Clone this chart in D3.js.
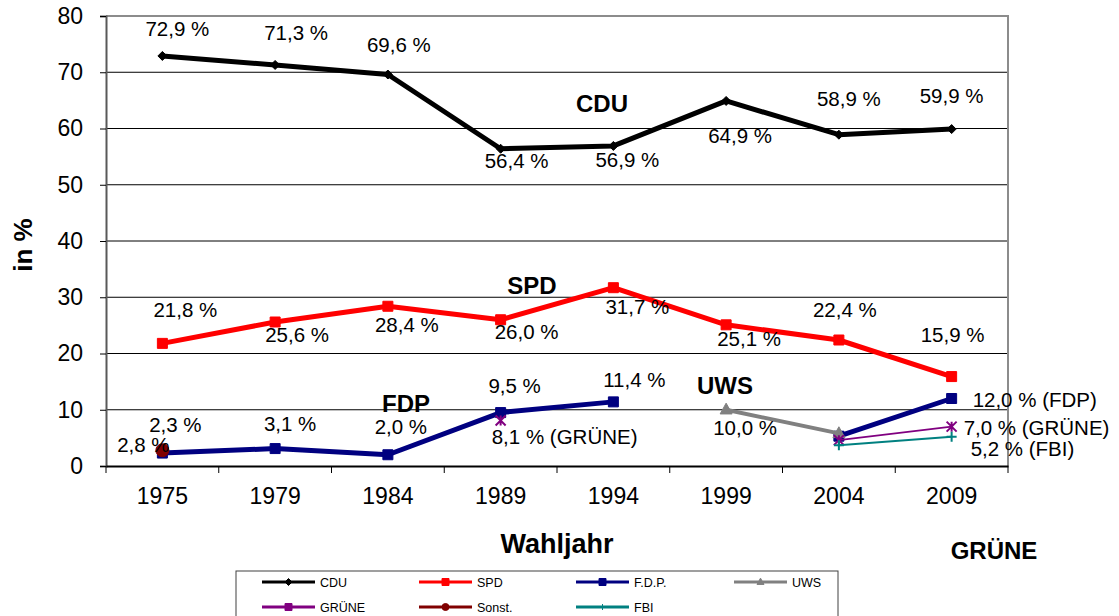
<!DOCTYPE html>
<html>
<head>
<meta charset="utf-8">
<script src="https://cdn.jsdelivr.net/npm/d3@7"></script>
<style>
  body { margin: 0; background: #fff; }
  svg { display: block; font-family: "Liberation Sans", Arial, sans-serif; }
</style>
</head>
<body>
<svg id="chart" width="1119" height="616"></svg>
<script>
// Wahlergebnisse in %
const years = ["1975", "1979", "1984", "1989", "1994", "1999", "2004", "2009"];
const cdu   = [72.9, 71.3, 69.6, 56.4, 56.9, 64.9, 58.9, 59.9];
const spd   = [21.8, 25.6, 28.4, 26.0, 31.7, 25.1, 22.4, 15.9];
const fdp   = [2.3, 3.1, 2.0, 9.5, 11.4, null, 5.3, 12.0];
const uws   = [null, null, null, null, null, 10.0, 5.8, null];
const gruene = [null, null, null, 8.1, null, null, 4.6, 7.0];
const sonst = [2.8, null, null, null, null, null, null, null];
const fbi   = [null, null, null, null, null, null, 3.7, 5.2];
const yTicks = [0, 10, 20, 30, 40, 50, 60, 70, 80];

const series = [
  {name: "CDU",    values: cdu,    color: "#000000", width: 5,   marker: "diamond"},
  {name: "SPD",    values: spd,    color: "#ff0000", width: 5,   marker: "square"},
  {name: "F.D.P.", values: fdp,    color: "#000080", width: 5,   marker: "square"},
  {name: "UWS",    values: uws,    color: "#808080", width: 4,   marker: "triangle"},
  {name: "GRÜNE",  values: gruene, color: "#800080", width: 2,   marker: "star", legendMarker: "square"},
  {name: "Sonst.", values: sonst,  color: "#800000", width: 4,   marker: "circle"},
  {name: "FBI",    values: fbi,    color: "#008080", width: 2,   marker: "plus"}
];

// data labels: series index, point index, suffix, placement relative to the point
const labels = [
  [0, 0, "", 15, -20], [0, 1, "", 21, -25], [0, 2, "", 11, -23], [0, 3, "", 16, 19],
  [0, 4, "", 14, 21],  [0, 5, "", 14, 42],  [0, 6, "", 10, -29], [0, 7, "", 0, -26],
  [1, 0, "", 23, -26], [1, 1, "", 22, 20],  [1, 2, "", 19, 26],  [1, 3, "", 26, 19],
  [1, 4, "", 24, 26],  [1, 5, "", 23, 21],  [1, 6, "", 6, -23],  [1, 7, "", 1, -35],
  [2, 0, "", 13, -21], [2, 1, "", 15, -18], [2, 2, "", 13, -21], [2, 3, "", 14, -20],
  [2, 4, "", 21, -15], [2, 7, " (FDP)", 21, 8, "start"],
  [3, 5, "", 19, 25],
  [4, 3, " (GRÜNE)", 64, 24], [4, 7, " (GRÜNE)", 12, 8, "start"],
  [5, 0, "", -19, 2],
  [6, 7, " (FBI)", 19, 19, "start"]
];

const partyNames = [
  {text: "CDU", x: 602, y: 112}, {text: "SPD", x: 532, y: 294},
  {text: "FDP", x: 406, y: 412}, {text: "UWS", x: 725, y: 394},
  {text: "GRÜNE", x: 994, y: 559}
];

const svg = d3.select("#chart");
const mLeft = 106, mRight = 1008, mTop = 16, mBottom = 466;

const x = d3.scaleBand().domain(years).range([mLeft, mRight]);
const y = d3.scaleLinear().domain([0, 80]).range([mBottom, mTop]);
const cx = i => x(years[i]) + x.bandwidth() / 2;
const fmt = v => d3.format(".1f")(v).replace(".", ",") + " %";

// gridlines
svg.append("g").selectAll("line")
  .data(yTicks.filter(t => t > 0 && t < 80))
  .join("line")
  .attr("x1", mLeft).attr("x2", mRight)
  .attr("y1", d => y(d)).attr("y2", d => y(d))
  .attr("stroke", "#000").attr("stroke-width", 1);

// plot frame (top & right)
svg.append("path")
  .attr("d", `M${mLeft},${mTop}H${mRight}V${mBottom}`)
  .attr("fill", "none").attr("stroke", "#8c8c8c").attr("stroke-width", 2);

// y axis
const yAxis = svg.append("g")
  .attr("transform", `translate(${mLeft},0)`)
  .call(d3.axisLeft(y).tickValues(yTicks).tickSize(6).tickPadding(17).tickFormat(d3.format("d")));
yAxis.select(".domain").attr("stroke", "#595959").attr("stroke-width", 2);
yAxis.selectAll(".tick line").attr("stroke", "#000");
yAxis.selectAll("text").attr("font-size", 23).attr("fill", "#000")
  .attr("font-family", "Liberation Sans, Arial, sans-serif");

// x axis
const xAxis = svg.append("g")
  .attr("transform", `translate(0,${mBottom})`)
  .call(d3.axisBottom(x).tickSize(0).tickPadding(22));
xAxis.select(".domain").attr("stroke", "#000").attr("stroke-width", 2);
xAxis.selectAll("text").attr("font-size", 23).attr("fill", "#000")
  .attr("font-family", "Liberation Sans, Arial, sans-serif");
xAxis.append("g").selectAll("line")
  .data(d3.range(years.length + 1))
  .join("line")
  .attr("x1", i => mLeft + i * x.step()).attr("x2", i => mLeft + i * x.step())
  .attr("y1", 0).attr("y2", 7)
  .attr("stroke", "#000").attr("stroke-width", 1);

// axis titles
svg.append("text")
  .attr("transform", `translate(32,245) rotate(-90)`)
  .attr("text-anchor", "middle")
  .attr("font-size", 26).attr("font-weight", "bold")
  .text("in %");
svg.append("text")
  .attr("x", 557).attr("y", 553)
  .attr("text-anchor", "middle")
  .attr("font-size", 27).attr("font-weight", "bold")
  .text("Wahljahr");

function markerPath(type, s) {
  switch (type) {
    case "diamond": return `M0,${-s}L${s},0L0,${s}L${-s},0Z`;
    case "square": return `M${-s},${-s}H${s}V${s}H${-s}Z`;
    case "triangle": return `M0,${-s * 1.1}L${s},${s * 0.7}L${-s},${s * 0.7}Z`;
    case "circle": return d3.symbol(d3.symbolCircle, Math.PI * s * s)();
    case "star": return `M${-s},${-s}L${s},${s}M${-s},${s}L${s},${-s}M0,${-s}V${s}`;
    case "plus": return `M${-s},0H${s}M0,${-s}V${s}`;
  }
}
const markerSize = {diamond: 4.5, square: 5, triangle: 6, circle: 6.5, star: 5, plus: 5};
const strokeMarker = t => t === "star" || t === "plus";

// series
const line = d3.line()
  .defined(d => d != null)
  .x((d, i) => cx(i))
  .y(d => y(d));

series.forEach(s => {
  const g = svg.append("g");
  g.append("path")
    .attr("d", line(s.values))
    .attr("fill", "none")
    .attr("stroke", s.color)
    .attr("stroke-width", s.width)
    .attr("stroke-linejoin", "round");
  g.selectAll("path.m")
    .data(s.values.map((v, i) => ({v, i})).filter(d => d.v != null))
    .join("path")
    .attr("class", "m")
    .attr("transform", d => `translate(${cx(d.i)},${y(d.v)})`)
    .attr("d", markerPath(s.marker, markerSize[s.marker]))
    .attr("fill", strokeMarker(s.marker) ? "none" : s.color)
    .attr("stroke", s.color)
    .attr("stroke-width", strokeMarker(s.marker) ? 2 : 1);
});

// data labels
svg.append("g").selectAll("text")
  .data(labels)
  .join("text")
  .attr("x", d => cx(d[1]) + d[3])
  .attr("y", d => y(series[d[0]].values[d[1]]) + d[4])
  .attr("text-anchor", d => d[5] || "middle")
  .attr("font-size", 20.5)
  .text(d => fmt(series[d[0]].values[d[1]]) + d[2]);

// party names
svg.append("g").selectAll("text")
  .data(partyNames)
  .join("text")
  .attr("x", d => d.x).attr("y", d => d.y)
  .attr("text-anchor", "middle")
  .attr("font-size", 24)
  .attr("font-weight", "bold")
  .text(d => d.text);

// legend
const legend = svg.append("g");
legend.append("rect")
  .attr("x", 236).attr("y", 571).attr("width", 602).attr("height", 60)
  .attr("fill", "#fff").attr("stroke", "#404040").attr("stroke-width", 1);
const cols = [262, 419, 576, 734];
series.forEach((s, k) => {
  const lx = cols[k % 4], ly = k < 4 ? 582 : 607;
  const it = legend.append("g").attr("transform", `translate(${lx},${ly})`);
  it.append("line").attr("x1", 0).attr("x2", 53)
    .attr("stroke", s.color).attr("stroke-width", 3);
  const mk = s.legendMarker || s.marker;
  it.append("path")
    .attr("transform", "translate(26.5,0)")
    .attr("d", markerPath(mk, mk === "plus" ? 3 : 3.5))
    .attr("fill", strokeMarker(mk) ? "none" : s.color)
    .attr("stroke", s.color).attr("stroke-width", 1);
  it.append("text").attr("x", 58).attr("y", 4.5)
    .attr("font-size", 12.5).text(s.name);
});
</script>
</body>
</html>
